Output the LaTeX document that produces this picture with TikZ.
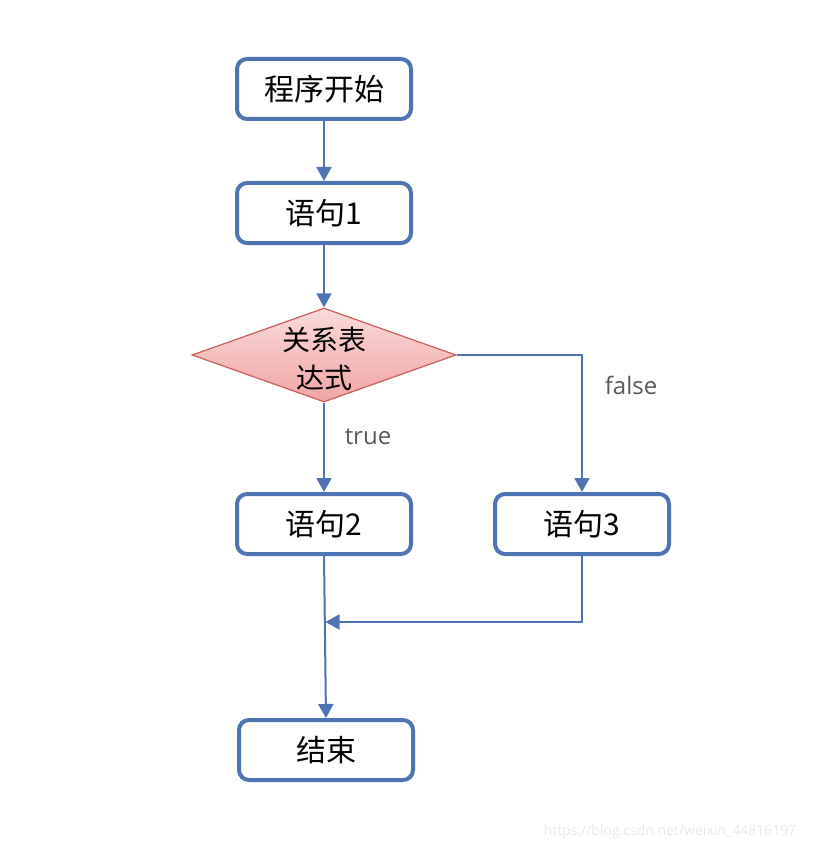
\documentclass[tikz,border=0pt]{standalone}
\usepackage{fontspec}
\setmainfont{Open Sans}
\newfontfamily\cjk{Noto Sans CJK SC}
\usetikzlibrary{shapes.geometric,arrows.meta}
\definecolor{boxblue}{RGB}{79,116,180}
\definecolor{diared}{RGB}{200,95,92}
\definecolor{labgray}{RGB}{89,89,89}
\begin{document}
\begin{tikzpicture}[x=1pt,y=-1pt,
  stmt/.style={draw=boxblue,line width=4pt,rounded corners=10pt,minimum width=174pt,minimum height=60pt,inner sep=0pt,fill=white,font=\cjk\fontsize{30}{34}\selectfont},
  cond/.style={shape=diamond,draw=diared,line width=1.2pt,minimum width=264pt,minimum height=94pt,inner sep=0pt,top color={rgb,255:red,251;green,218;blue,218},bottom color={rgb,255:red,240;green,165;blue,165}},
  flow/.style={draw=boxblue,line width=2pt,-{Triangle[width=15pt,length=14pt]}},
  lab/.style={text=labgray,font=\fontsize{24}{28}\selectfont}]

\useasboundingbox (0,0) rectangle (815,850);

\node[stmt] (start) at (324,89) {程序开始};
\node[stmt] (s1) at (324,213) {语句1};
\node[cond] (test) at (324,355) {};
\node[align=center,font=\cjk\fontsize{28}{38}\selectfont] (testtext) at (324,359) {关系表\\达式};
\node[stmt] (s2) at (324,524) {语句2};
\node[stmt] (s3) at (582,524) {语句3};
\node[stmt] (stop) at (326,750) {结束};
\coordinate (join) at (325.5,622);

\draw [flow] (start) -- (s1);
\draw [flow] (s1) -- (test.north);
\draw [flow] (test.south) -- (s2);
\draw [flow] (test.east) -| (s3.north);
\draw [flow] (s3.south) |- (join);
\draw [flow] (s2.south) -- (stop.north);

\node[lab] (ltrue) at (368,437) {true};
\node[lab] (lfalse) at (631,385) {false};

%watermark
\node[text=black!9,font=\fontsize{14}{16}\selectfont] (mark) at (670,832) {https://blog.csdn.net/weixin\_44816197};
\end{tikzpicture}
\end{document}
